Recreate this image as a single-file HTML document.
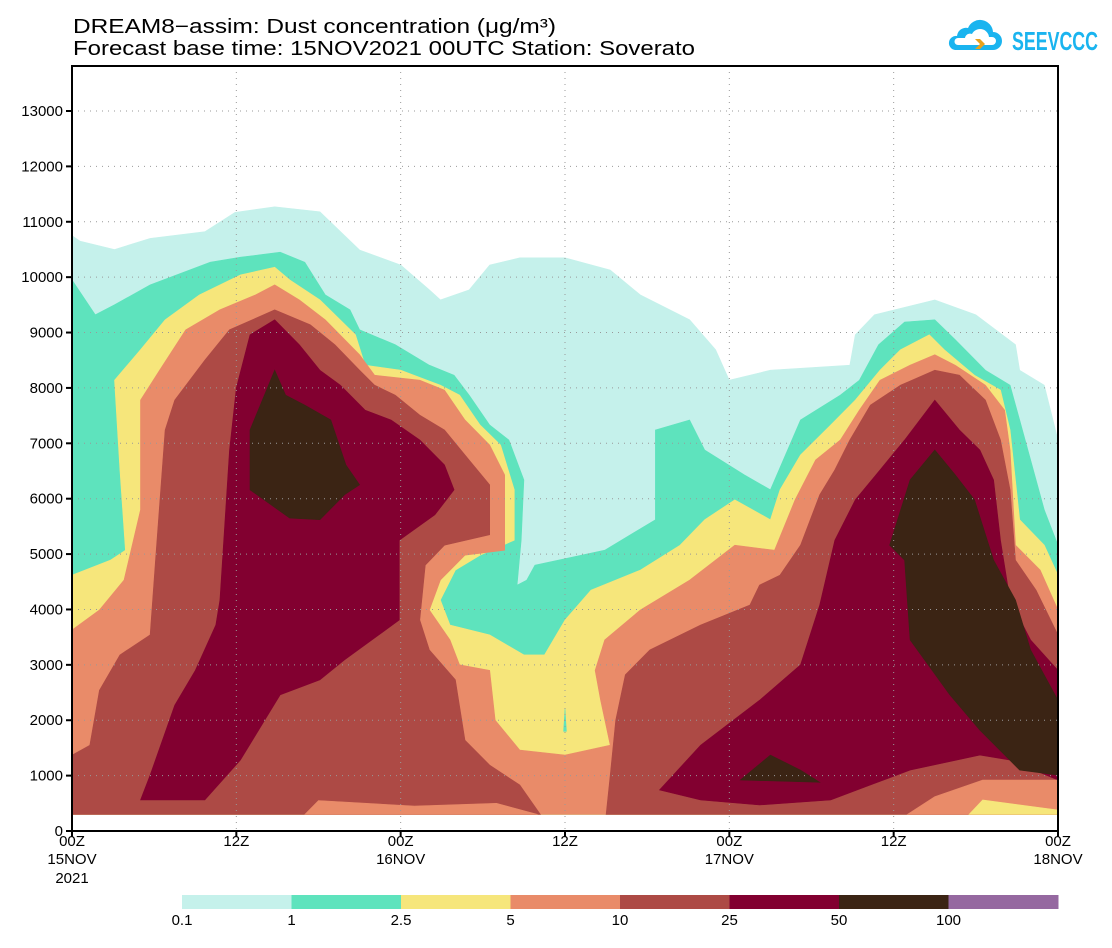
<!DOCTYPE html>
<html><head><meta charset="utf-8"><style>
body{margin:0;background:#fff;width:1112px;height:943px;overflow:hidden;font-family:"Liberation Sans",sans-serif}
svg text{font-family:"Liberation Sans",sans-serif}
</style></head><body>
<svg id="chart" width="1112" height="943" xmlns="http://www.w3.org/2000/svg">
<text x="73" y="33" font-size="20" textLength="483" lengthAdjust="spacingAndGlyphs">DREAM8−assim: Dust concentration (μg/m³)</text>
<text x="73" y="55" font-size="20" textLength="622" lengthAdjust="spacingAndGlyphs">Forecast base time: 15NOV2021 00UTC  Station: Soverato</text>
<g>
<path d="M955 50 h38 a9 9 0 0 0 0-18 a13 13 0 0 0-25-4 a9 9 0 0 0-11 8 a7 7 0 0 0-2 14z" fill="#1ab4ef"/>
<path d="M958 45 h34 a4 4 0 0 0 0-8 h-3 a9 9 0 0 0-17-3 a5 5 0 0 0-7 4 h-7 a3.5 3.5 0 0 0 0 7z" fill="#fff"/>
<path d="M975 39 l5 5 l-5 5 h5 l5-5 l-5-5z" fill="#e8a21c"/>
<text x="1012" y="50" font-size="26" font-weight="bold" fill="#1ab4ef" textLength="86" lengthAdjust="spacingAndGlyphs">SEEVCCC</text>
</g>
<g id="fills"></g><g id="grid"></g><g id="axes"></g><g id="cbar"></g>
</svg>
<script>
const NS="http://www.w3.org/2000/svg";
const levelColors=["#c5f1eb","#5ee3bd","#f6e67b","#e98b69","#ad4a45","#820030","#3b2414","#9568a0"];
const levelLabels=["0.1","1","2.5","5","10","25","50","100"];
const xTickHours=[0,12,24,36,48,60,72];
const xTickTop=["00Z","12Z","00Z","12Z","00Z","12Z","00Z"];
const xTickMid=["15NOV","","16NOV","","17NOV","","18NOV"];
const xTickBot=["2021","","","","","",""];
const yTicks=[0,1000,2000,3000,4000,5000,6000,7000,8000,9000,10000,11000,12000,13000];
// contour polygons [hour, metres], level index
const poly01=[[0,10750],[0.6,10650],[3.1,10500],[5.7,10700],[9.7,10820],[11.9,11170],[14.8,11270],[18.1,11180],[21,10490],[24,10220],[26.1,9770],[26.9,9590],[29,9770],[30.5,10220],[32.7,10350],[36,10350],[39.3,10130],[41.5,9680],[45.1,9230],[47,8690],[48,8140],[51,8320],[56.8,8410],[57.2,8960],[58.6,9320],[63,9590],[66,9320],[68.9,8780],[69.2,8320],[71,8050],[72,7060],[72,300],[0,300]];
const poly1=[[0,9950],[1.7,9320],[3.1,9500],[5.7,9860],[10.1,10270],[12.3,10360],[15.2,10450],[17,10270],[18.5,9680],[20.3,9410],[21,9050],[23.6,8780],[26.1,8410],[27.9,8230],[29,7870],[30.5,7330],[31.9,7060],[33,6340],[32.8,5250],[32.5,4440],[33.2,4530],[33.8,4800],[38.9,5070],[42.6,5620],[42.6,7240],[45.1,7420],[46.2,6880],[49.1,6430],[51,6160],[53.2,7420],[56.1,7870],[57.5,8140],[58.9,8780],[60.8,9190],[63,9230],[64.5,8870],[66.7,8320],[68.5,8050],[69.2,7420],[71,5800],[72,5160],[72,300],[0,300]];
const poly25=[[0,4620],[2.8,4890],[3.9,5070],[3.5,6520],[3.1,8140],[5,8690],[6.8,9230],[9.3,9680],[12.3,10040],[14.8,10180],[15.9,9950],[18.1,9590],[20.7,8960],[21.4,8410],[24,8320],[26.9,8050],[28.3,7870],[29.8,7330],[31.3,6970],[32.3,6160],[32.3,5250],[29.8,4980],[28,4710],[26.9,4170],[27.6,3720],[30.5,3540],[33,3180],[34.5,3180],[36,3810],[37.9,4350],[41.5,4710],[44.4,5160],[46.2,5620],[48.4,5980],[51,5620],[51.7,6160],[53.2,6790],[55.4,7330],[57.2,7780],[59,8320],[60.5,8690],[62.6,8960],[63.7,8690],[65.9,8230],[67.8,7960],[68.5,7240],[69.2,5620],[71,5160],[72,4620],[72,300],[0,300]];
const poly5=[[0,3630],[2,3990],[3.8,4530],[5,5800],[5,7780],[6.4,8320],[8.3,9050],[10.8,9410],[13.4,9680],[14.8,9860],[16.6,9590],[18.5,9230],[21,8600],[22.1,8230],[25.4,8140],[27.2,7960],[28.7,7420],[30.5,6970],[31.6,6430],[31.6,5070],[28.7,4980],[26.9,4530],[26.1,3990],[27.6,3450],[28.3,3000],[30.5,2900],[30.9,2000],[32.7,1460],[36,1370],[39.3,1550],[38.6,2360],[38.2,2900],[38.9,3450],[41.5,3990],[45.1,4530],[48.4,5160],[51.3,5070],[52.8,5980],[54.3,6700],[56.1,7060],[57.5,7600],[59,8140],[61.2,8410],[63,8600],[64.5,8410],[66.7,8050],[68.1,7600],[68.5,6880],[68.9,5160],[70.7,4710],[72,3990],[72,300],[0,300]];
const poly10a=[[0,1370],[1.3,1550],[2,2540],[3.5,3180],[5.7,3540],[6.1,4890],[6.8,7240],[7.5,7780],[9.7,8500],[11.5,9050],[14.8,9410],[17.4,9140],[19.2,8780],[21,8320],[22.1,8050],[23.6,7870],[25.4,7510],[27.2,7240],[29,6700],[30.5,6250],[30.5,5350],[27.2,5160],[25.8,4800],[25.4,3810],[26.1,3270],[28,2730],[28.7,1640],[30.5,1190],[32.7,830],[34.2,300],[0,300]];
const poly10b=[[39,300],[39.3,1010],[39.7,2000],[40.4,2820],[42.2,3270],[45.9,3720],[49.5,4080],[50.2,4440],[51.7,4620],[53.2,5160],[54.6,6070],[55.7,6520],[56.8,7060],[58.3,7690],[60.5,8050],[63,8320],[64.8,8230],[66.7,7780],[67.8,7060],[68.5,6160],[68.9,4890],[70.4,4350],[72,3540],[72,300]];
const poly25a=[[5,560],[5.7,1010],[7.5,2270],[9,2900],[10.5,3720],[10.8,4170],[11.5,6880],[12,8000],[13,8960],[14.8,9230],[16.6,8780],[18.1,8320],[19.6,8050],[21.4,7600],[23.3,7420],[25.4,7060],[27.2,6610],[27.9,6160],[26.5,5710],[23.9,5250],[23.9,3810],[19.9,3090],[18.1,2730],[15.2,2460],[12.3,1280],[9.7,560]];
const poly25b=[[42.9,740],[45.9,1550],[50.2,2360],[53.2,3000],[54.6,4080],[55.7,5250],[57.2,5980],[59,6520],[60.8,7060],[63,7780],[64.8,7240],[66.3,6880],[67.3,6340],[67.8,5250],[68.5,4170],[70,3450],[72,2900],[72,920],[68.5,1280],[66.3,1370],[61.2,1100],[58.3,830],[55.4,560],[50.2,470],[45.9,560]];
const poly50a=[[13,7240],[14.8,8320],[15.6,7870],[17,7690],[18.9,7420],[20,6610],[21,6250],[19.9,6070],[18.1,5620],[15.9,5650],[13,6160]];
const poly50b=[[59.7,5160],[61.2,6340],[63,6880],[64.5,6430],[65.9,5980],[67.3,4890],[68.9,4170],[70,3270],[72,2360],[72,1010],[69.2,1100],[66.3,1820],[64.1,2460],[61.2,3450],[60.8,4890]];
const poly50c=[[48.8,920],[51,1370],[53.2,1100],[54.6,880]];
const patch5a=[[17,300],[18,550],[25,450],[31,500],[34,300]];
const patch5b=[[61,300],[63,620],[66.5,920],[72,920],[72,300]];
const patch25b=[[65.5,300],[66.5,560],[72,380],[72,300]];
const patch1=[[35.9,1800],[36,2200],[36.1,1800]];
const polygons=[[poly01,0],[poly1,1],[poly25,2],[poly5,3],[poly10a,4],[poly10b,4],[poly25a,5],[poly25b,5],[poly50a,6],[poly50b,6],[poly50c,6],[patch5a,3],[patch5b,3],[patch25b,2],[patch1,1]];
const polyNames=["level-0-1","level-1","level-2-5","level-5","level-10-left","level-10-right","level-25-left","level-25-right","level-50-left","level-50-right","level-50-small","level-5-bottom-centre","level-5-bottom-right","level-2-5-bottom-right","level-1-sliver"];

const X0=72,X1=1058,Y0=831,Ytop=111;
const xs=h=>X0+(X1-X0)*h/72;
const ys=m=>Y0-(Y0-Ytop)*m/13000;
function mk(t,a,p){const e=document.createElementNS(NS,t);for(const k in a)e.setAttribute(k,a[k]);p.appendChild(e);return e;}
const fills=document.getElementById('fills');
polygons.forEach((pp,i)=>{
  const e=mk('polygon',{points:pp[0].map(p=>xs(p[0]).toFixed(1)+','+ys(p[1]).toFixed(1)).join(' '),fill:levelColors[pp[1]],stroke:levelColors[pp[1]],'stroke-width':0.6},fills);
  
  
});
const grid=document.getElementById('grid'),axes=document.getElementById('axes');
xTickHours.forEach((h,i)=>{
  const x=xs(h);
  if(i>0&&i<xTickHours.length-1){const g=mk('line',{x1:x,x2:x,y1:66,y2:Y0,stroke:'#999','stroke-width':1,'stroke-dasharray':'1 5'},grid);}
  const t=mk('line',{x1:x,x2:x,y1:Y0,y2:Y0+6,stroke:'#000','stroke-width':2},axes);
  [[xTickTop[i],846],[xTickMid[i],864],[xTickBot[i],883]].forEach(a=>{if(!a[0])return;const tx=mk('text',{x:x,y:a[1],'font-size':15,'text-anchor':'middle'},axes);tx.textContent=a[0];});
});
yTicks.forEach(v=>{
  const y=ys(v);
  if(v>0){const g=mk('line',{x1:X0,x2:X1,y1:y,y2:y,stroke:'#999','stroke-width':1,'stroke-dasharray':'1 5'},grid);}
  const t=mk('line',{x1:X0-6,x2:X0,y1:y,y2:y,stroke:'#000','stroke-width':2},axes);
  const tx=mk('text',{x:X0-9,y:y+5,'font-size':15,'text-anchor':'end'},axes);tx.textContent=v;
});
const fr=mk('rect',{x:X0,y:66,width:X1-X0,height:Y0-66,fill:'none',stroke:'#000','stroke-width':2},axes);

const cb=document.getElementById('cbar');const cw=(1058-182)/8;
levelColors.forEach((c,i)=>{
  const r=mk('rect',{x:182+i*cw,y:895,width:cw+0.5,height:14,fill:c},cb);
  const t=mk('text',{x:182+i*cw,y:925,'font-size':15,'text-anchor':'middle'},cb);t.textContent=levelLabels[i];
});
</script>
</body></html>
